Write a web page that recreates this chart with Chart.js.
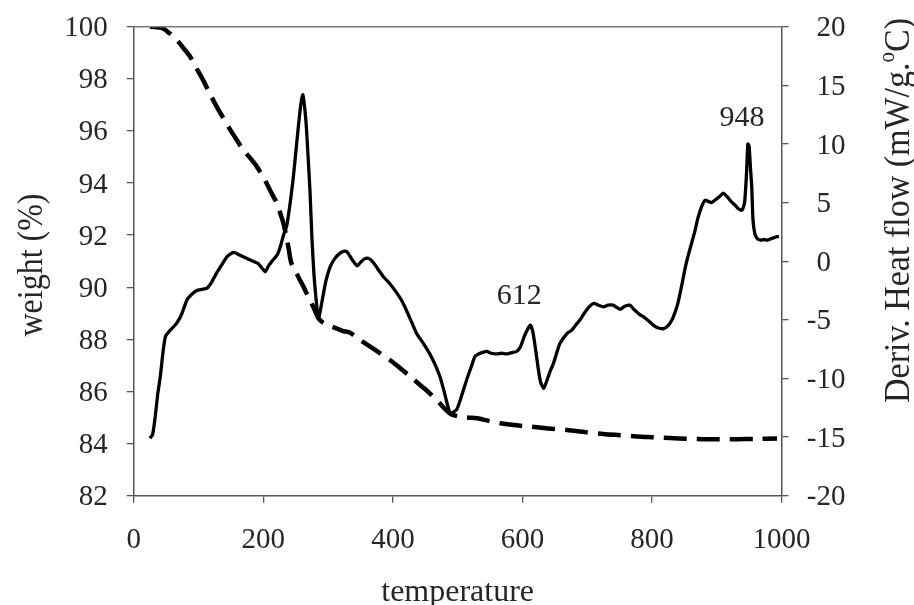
<!DOCTYPE html>
<html>
<head>
<meta charset="utf-8">
<title>TGA / DTA</title>
<script src="https://cdn.jsdelivr.net/npm/chart.js@4.4.1/dist/chart.umd.min.js"></script>
<style>
  html, body { margin: 0; padding: 0; background: #ffffff; }
  #wrap { width: 914px; height: 605px; position: relative; }
  canvas { display: block; }
</style>
</head>
<body>
<div id="wrap"><canvas id="chart" width="914" height="605" style="width:914px;height:605px"></canvas></div>
<script>
// ---- data ---------------------------------------------------------------
// weight loss curve (left axis, %)
const tgaTemp = [25, 35, 45, 55, 66, 76, 87, 97, 107, 117, 128, 138, 149, 159, 169, 180, 190, 198,
  205, 213, 221, 226, 231, 235, 239, 243, 250, 256, 262, 270, 278, 285, 295, 310, 322, 334, 345,
  355, 365, 380, 396, 411, 427, 442, 457, 472, 488, 500, 515, 530, 548, 566, 590, 612, 640, 669,
  697, 725, 751, 777, 803, 828, 854, 880, 905, 931, 960, 993];
const tgaWeight = [100.0, 99.98, 99.93, 99.75, 99.5, 99.2, 98.85, 98.4, 97.95, 97.45, 96.93, 96.5,
  96.04, 95.65, 95.27, 94.95, 94.63, 94.3, 93.99, 93.6, 93.22, 92.85, 92.46, 92.0, 91.5, 90.95,
  90.6, 90.3, 90.02, 89.6, 89.2, 88.81, 88.6, 88.45, 88.33, 88.25, 88.05, 87.88, 87.72, 87.47,
  87.2, 86.9, 86.57, 86.25, 85.93, 85.55, 85.16, 85.05, 85.0, 84.97, 84.87, 84.78, 84.7, 84.65,
  84.58, 84.52, 84.44, 84.37, 84.32, 84.27, 84.24, 84.21, 84.19, 84.17, 84.17, 84.17, 84.18, 84.2];

// derivative heat flow curve (right axis, mW/g.°C)
const dtaTemp = [25, 29, 33, 37, 41, 45, 49, 56, 66, 74, 82, 90, 97, 105, 113, 120, 128, 136, 144,
  154, 164, 174, 184, 192, 198, 203, 208, 212, 218, 222, 226, 231, 236, 241, 246, 251, 256, 259,
  261, 263, 266, 269, 272, 275, 278, 281, 285, 288, 293, 297, 303, 310, 318, 325, 329, 334, 340,
  345, 350, 356, 362, 368, 376, 385, 395, 406, 414, 421, 429, 437, 447, 457, 465, 473, 480, 486,
  489, 493, 499, 506, 514, 521, 527, 533, 540, 545, 552, 560, 568, 576, 584, 591, 597, 603, 608,
  612, 616, 620, 624, 628, 633, 637, 642, 648, 653, 658, 664, 670, 676, 683, 689, 696, 703, 710,
  717, 725, 732, 740, 746, 751, 758, 766, 772, 780, 787, 795, 802, 810, 818, 825, 831, 836, 840,
  844, 848, 852, 856, 861, 866, 871, 877, 882, 887, 892, 897, 904, 910, 916, 922, 928, 934, 939,
  943, 946, 948, 950, 952, 954, 956, 959, 963, 968, 973, 978, 983, 988, 993, 996];
const dtaHeat = [-15.1, -14.8, -13.3, -11.3, -9.8, -7.8, -6.4, -5.9, -5.3, -4.5, -3.3, -2.8, -2.5,
  -2.4, -2.3, -1.8, -1.0, -0.3, 0.4, 0.75, 0.5, 0.25, 0.0, -0.2, -0.6, -0.9, -0.4, -0.1, 0.3, 0.6,
  1.2, 2.2, 3.0, 4.8, 7.0, 9.8, 12.5, 13.8, 14.2, 13.5, 11.8, 9.0, 6.0, 2.0, -1.0, -3.0, -4.9,
  -4.2, -2.7, -1.6, -0.5, 0.2, 0.67, 0.85, 0.8, 0.4, -0.1, -0.4, -0.1, 0.2, 0.25, 0.0, -0.6, -1.3,
  -1.9, -2.7, -3.4, -4.2, -5.2, -6.2, -7.0, -7.9, -8.8, -9.9, -11.3, -12.6, -13.0, -12.9, -12.6,
  -11.5, -10.1, -9.0, -8.1, -7.9, -7.75, -7.7, -7.85, -7.9, -7.85, -7.9, -7.8, -7.7, -7.3, -6.4,
  -5.8, -5.45, -6.0, -7.4, -9.0, -10.3, -10.85, -10.3, -9.5, -8.7, -7.8, -7.0, -6.5, -6.1, -5.9,
  -5.4, -5.0, -4.4, -3.9, -3.6, -3.75, -3.9, -3.75, -3.75, -3.95, -4.1, -3.85, -3.75, -4.1, -4.5,
  -4.75, -5.1, -5.45, -5.7, -5.75, -5.5, -5.0, -4.3, -3.6, -2.6, -1.5, -0.4, 0.5, 1.5, 2.5, 3.7,
  4.7, 5.2, 5.1, 5.0, 5.2, 5.5, 5.8, 5.5, 5.1, 4.8, 4.45, 4.35, 5.0, 7.5, 10.0, 9.8, 8.0, 6.4, 3.5,
  2.3, 1.9, 1.8, 1.85, 1.8, 1.9, 2.0, 2.1, 2.1];

// peak labels: [text, temperature, heat flow where the label sits]
const peakLabels = [["612", 595, -3.0], ["948", 939, 12.2]];

// axis ranges and tick steps
const tempRange = [0, 1000], tempStep = 200;
const weightRange = [82, 100], weightStep = 2;
const heatRange = [-20, 20], heatStep = 5;

// ---- layout / style -----------------------------------------------------
const W = 914, H = 605;
const AREA = { left: 133.8, right: 781.5, top: 26.7, bottom: 495.7 };
const SERIF = '"Liberation Serif", "Times New Roman", Times, serif';
const TEXT = '#262626';
const AXIS = '#555555';

function pairs(xs, ys) { return xs.map((x, i) => ({ x: x, y: ys[i] })); }

function font(px) { return px + 'px ' + SERIF; }

// draws the frame's top edge, tick labels, titles and peak labels
const decorations = {
  id: 'decorations',
  afterDraw(chart) {
    const ctx = chart.ctx;
    const xs = chart.scales.x, yl = chart.scales.yL, yr = chart.scales.yR;
    const a = chart.chartArea;
    ctx.save();

    // top edge of the frame
    ctx.strokeStyle = '#7a7a7a';
    ctx.lineWidth = 1.5;
    ctx.beginPath();
    ctx.moveTo(a.left, a.top);
    ctx.lineTo(a.right, a.top);
    ctx.stroke();

    ctx.fillStyle = TEXT;
    const tick = 29;
    ctx.font = font(tick);
    ctx.textBaseline = 'alphabetic';
    const half = tick * 0.33;

    // left tick labels
    ctx.textAlign = 'right';
    yl.ticks.forEach(t => {
      ctx.fillText(String(t.value), a.left - 26, yl.getPixelForValue(t.value) + half);
    });

    // right tick labels (digits aligned, minus sign hanging to the left)
    yr.ticks.forEach(t => {
      const y = yr.getPixelForValue(t.value) + half;
      const x0 = a.right + 35;
      ctx.textAlign = 'left';
      ctx.fillText(String(Math.abs(t.value)), x0, y);
      if (t.value < 0) {
        ctx.textAlign = 'right';
        ctx.fillText('-', x0, y);
      }
    });

    // bottom tick labels
    ctx.textAlign = 'center';
    xs.ticks.forEach(t => {
      ctx.fillText(String(t.value), xs.getPixelForValue(t.value), 548);
    });

    // axis titles
    const title = 32;
    ctx.font = font(title);
    ctx.textAlign = 'center';
    ctx.fillText('temperature', (a.left + a.right) / 2, 601);

    ctx.save();
    ctx.translate(41.5, 265);
    ctx.scale(1.1, 1);
    ctx.rotate(-Math.PI / 2);
    ctx.fillText('weight (%)', 0, 0);
    ctx.restore();

    // right title with superscript degree mark
    const rt = 34;
    ctx.save();
    ctx.translate(909, 403);
    ctx.scale(1.08, 1);
    ctx.rotate(-Math.PI / 2);
    ctx.textAlign = 'left';
    const part1 = 'Deriv. Heat flow (mW/g.';
    ctx.font = font(rt);
    ctx.fillText(part1, 0, 0);
    let x = ctx.measureText(part1).width;
    ctx.font = font(Math.round(rt * 0.62));
    ctx.fillText('o', x, -rt * 0.42);
    x += ctx.measureText('o').width;
    ctx.font = font(rt);
    ctx.fillText('C)', x, 0);
    ctx.restore();

    // peak labels
    ctx.font = font(30);
    ctx.textAlign = 'center';
    ctx.textBaseline = 'middle';
    peakLabels.forEach(([s, t, v]) => {
      ctx.fillText(s, xs.getPixelForValue(t), yr.getPixelForValue(v));
    });

    ctx.restore();
  }
};

const axisCommon = {
  grid: { drawOnChartArea: false, drawTicks: true, tickLength: 7, color: AXIS, lineWidth: 1.3 },
  border: { display: true, color: AXIS, width: 1.5 },
  ticks: { display: false }
};

new Chart(document.getElementById('chart'), {
  type: 'line',
  data: {
    datasets: [
      {
        label: 'weight',
        data: pairs(tgaTemp, tgaWeight),
        yAxisID: 'yL',
        borderColor: '#000000',
        borderWidth: 4.5,
        borderDash: [23, 10],
        pointRadius: 0,
        tension: 0.3,
        fill: false
      },
      {
        label: 'heat flow',
        data: pairs(dtaTemp, dtaHeat),
        yAxisID: 'yR',
        borderColor: '#000000',
        borderWidth: 3.3,
        pointRadius: 0,
        tension: 0.2,
        fill: false
      }
    ]
  },
  options: {
    responsive: false,
    devicePixelRatio: 1,
    animation: false,
    layout: { padding: { top: AREA.top, left: 0, right: 0, bottom: 0 } },
    plugins: { legend: { display: false }, tooltip: { enabled: false } },
    scales: {
      x: Object.assign({}, axisCommon, {
        type: 'linear', position: 'bottom',
        min: tempRange[0], max: tempRange[1],
        ticks: { display: false, stepSize: tempStep },
        afterFit(s) { s.height = H - AREA.bottom; }
      }),
      yL: Object.assign({}, axisCommon, {
        type: 'linear', position: 'left',
        min: weightRange[0], max: weightRange[1],
        ticks: { display: false, stepSize: weightStep },
        afterFit(s) { s.width = AREA.left; }
      }),
      yR: Object.assign({}, axisCommon, {
        type: 'linear', position: 'right',
        min: heatRange[0], max: heatRange[1],
        ticks: { display: false, stepSize: heatStep },
        afterFit(s) { s.width = W - AREA.right; }
      })
    }
  },
  plugins: [decorations]
});
</script>
</body>
</html>
